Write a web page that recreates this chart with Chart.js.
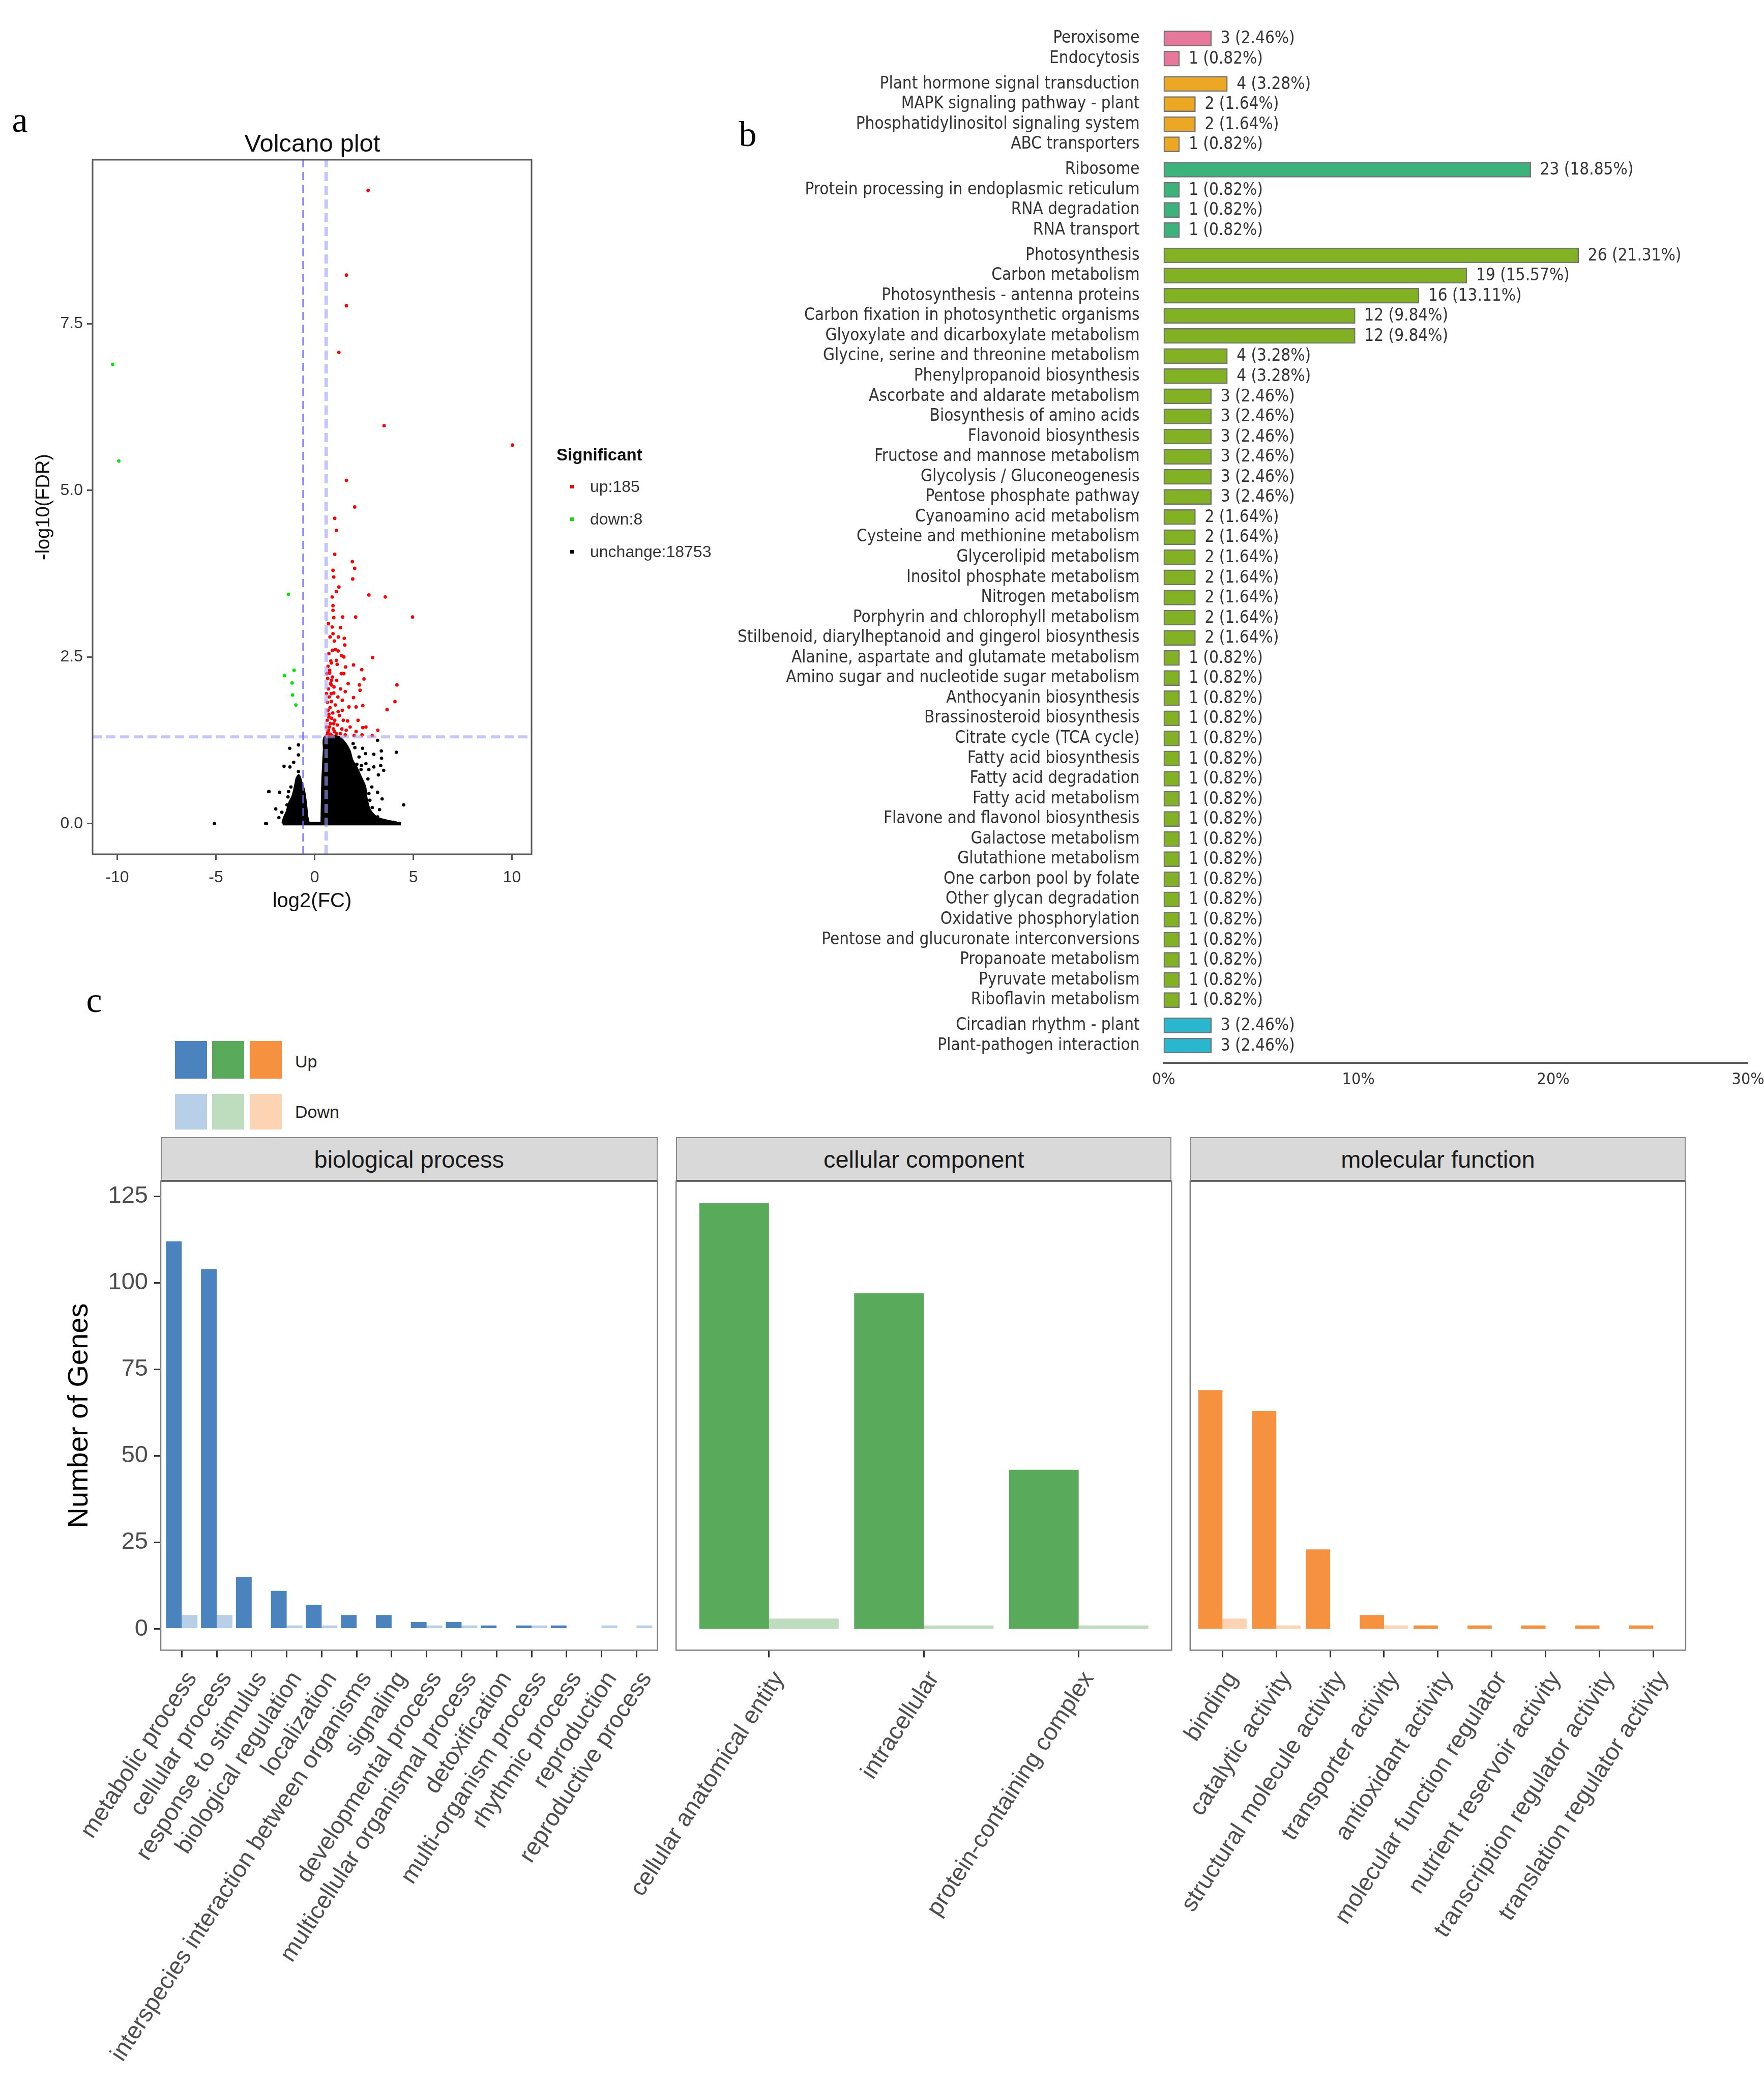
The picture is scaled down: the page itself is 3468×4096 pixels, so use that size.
<!DOCTYPE html>
<html><head><meta charset="utf-8">
<script src="https://cdn.jsdelivr.net/npm/chart.js@4.4.1/dist/chart.umd.min.js"></script>
<style>
html,body{margin:0;padding:0;background:#fff;}
body{width:3468px;height:4096px;overflow:hidden;position:relative;font-family:'Liberation Sans',Arial,sans-serif;}
canvas{position:absolute;}
.t{position:absolute;white-space:nowrap;line-height:1;}
.sw{position:absolute;}
.strip{position:absolute;box-sizing:border-box;background:#d9d9d9;border:2.5px solid #8a8a8a;border-bottom:4px solid #333;display:flex;align-items:center;justify-content:center;font-size:47px;color:#1a1a1a;}
</style></head><body>
<script>
// ================= DATA =================
// --- a: volcano ---
const volcanoXTicks = [-10, -5, 0, 5, 10];
const volcanoYTicks = [0, 2.5, 5, 7.5];
const fcThreshold = 0.585;     // |log2(FC)| cut-off
const fdrThreshold = 1.301;    // -log10(0.05)
const volcanoLegend = ['up:185', 'down:8', 'unchange:18753'];
const upPoints = [[2.71,9.50],[1.61,8.23],[1.61,7.77],[1.23,7.07],[3.52,5.97],[10.02,5.68],[1.61,5.15],[2.03,4.75],[1.02,4.58],[1.10,4.40],[1.02,4.04],[1.91,3.93],[2.03,3.83],[0.93,3.80],[0.97,3.70],[1.93,3.67],[1.23,3.55],[1.10,3.48],[2.75,3.43],[3.58,3.40],[0.89,3.40],[0.93,3.27],[0.93,3.20],[4.96,3.10],[2.08,3.10],[1.42,3.10],[0.97,3.09],[0.89,2.95],[1.31,2.94],[0.93,2.85],[1.50,2.78],[1.00,2.74],[1.53,2.68],[1.06,2.61],[1.19,2.59],[1.36,2.52],[1.48,2.50],[2.94,2.49],[0.85,2.41],[1.14,2.39],[1.97,2.38],[1.57,2.35],[2.39,2.31],[0.76,2.30],[1.48,2.25],[2.50,2.17],[4.17,2.08],[2.27,2.08],[0.85,2.08],[1.31,2.02],[0.97,1.96],[1.97,1.89],[1.40,1.85],[4.07,1.83],[0.85,1.83],[2.44,1.77],[1.74,1.75],[2.10,1.75],[3.67,1.71],[1.19,1.68],[0.72,1.64],[1.67,1.54],[0.97,1.50],[2.44,1.44],[1.38,1.42],[2.10,1.38],[0.68,1.38],[0.81,1.34],[1.10,1.35],[2.92,1.32],
 [0.62,1.32],[0.66,1.36],[0.70,1.40],[0.75,1.45],[0.80,1.50],[0.64,1.55],[0.72,1.60],[0.86,1.58],[0.68,1.70],[0.78,1.74],[0.92,1.66],[0.65,1.82],[0.74,1.90],[0.84,1.95],[0.70,2.02],[0.80,2.10],[0.66,2.18],[0.90,2.20],[0.76,2.26],[0.68,2.36],[0.82,2.44],[0.72,2.55],[0.95,1.42],[1.02,1.55],[1.15,1.48],[1.25,1.62],[1.05,1.78],[1.18,1.90],[0.98,2.05],[1.12,2.15],[1.30,1.35],[1.45,1.55],[1.60,1.40],[1.80,1.45],[1.55,1.98],[1.35,2.25],[0.88,1.32],[1.00,1.38],[0.60,1.45],[0.60,1.95],[0.62,2.25],[0.90,2.60],[0.78,2.80],[0.70,3.00],[1.20,2.80],[2.20,1.55],[2.00,1.32],[2.60,1.45],[3.20,1.40],[1.40,1.70],[1.70,2.10],[2.30,2.00],[1.10,2.45],[0.85,2.15],[2.40,1.33],[1.55,1.33]];
const downPoints = [[-10.23,6.89],[-9.92,5.44],[-1.33,3.44],[-1.04,2.30],[-1.53,2.22],[-1.14,2.11],[-1.12,1.93],[-0.95,1.78]];
const unchangePoints = [[-5.08,0],[-2.48,0],[-2.44,0],[-2.33,0.48],[-2.31,0.48],[-1.97,0.22],[-1.78,0.47],[-1.81,0.09],[-1.66,0.17],[-1.55,0.86],[-1.32,0.48],[-1.35,0.40],[-1.25,0.85],[-1.26,1.13],[-1.06,0.92],[-0.82,1.18],[-0.82,1.03],[-0.82,0.78],[-1.40,0.28],[-1.20,0.55],
 [3.19,1.25],[3.38,1.09],[4.14,1.07],[3.39,0.98],[3.00,1.04],[2.58,1.05],[2.43,1.13],[2.04,1.14],[3.35,0.87],[3.00,0.85],[2.75,0.81],[3.50,0.80],[3.23,0.73],[2.70,0.67],[3.19,0.47],[2.75,0.45],[3.42,0.37],[4.51,0.28],[2.70,0.23],[2.92,0.24],[3.29,0.21],[3.19,0.10],[2.35,0.81],[2.37,0.87],[2.14,0.89],[3.81,0],[4.28,0],[3.50,0],[4.00,0.02],[2.90,0.55],[2.60,0.90],[2.25,1.00],[1.95,1.20],[2.80,0.35]];
// outline of the dense, overplotted core of the 18753 unchanged genes
const unchangeCoreLeft = [[-1.62,0],[-1.55,0.08],[-1.40,0.18],[-1.29,0.30],[-1.10,0.42],[-0.97,0.58],[-0.90,0.68],[-0.80,0.72],[-0.68,0.62],[-0.55,0.50],[-0.45,0.30],[-0.38,0.10],[-0.30,0]];
const unchangeCoreRight = [[0.36,0],[0.40,0.60],[0.48,1.10],[0.53,1.30],[1.20,1.30],[1.50,1.22],[1.75,1.10],[1.90,0.95],[2.10,0.85],[2.30,0.72],[2.55,0.55],[2.62,0.38],[2.80,0.20],[3.20,0.08],[4.37,0]];
const unchangeBaseline = [[-1.62,0],[4.37,0]];

// --- b: KEGG ---
const keggTerms = ['Peroxisome','Endocytosis','Plant hormone signal transduction','MAPK signaling pathway - plant','Phosphatidylinositol signaling system','ABC transporters','Ribosome','Protein processing in endoplasmic reticulum','RNA degradation','RNA transport','Photosynthesis','Carbon metabolism','Photosynthesis - antenna proteins','Carbon fixation in photosynthetic organisms','Glyoxylate and dicarboxylate metabolism','Glycine, serine and threonine metabolism','Phenylpropanoid biosynthesis','Ascorbate and aldarate metabolism','Biosynthesis of amino acids','Flavonoid biosynthesis','Fructose and mannose metabolism','Glycolysis / Gluconeogenesis','Pentose phosphate pathway','Cyanoamino acid metabolism','Cysteine and methionine metabolism','Glycerolipid metabolism','Inositol phosphate metabolism','Nitrogen metabolism','Porphyrin and chlorophyll metabolism','Stilbenoid, diarylheptanoid and gingerol biosynthesis','Alanine, aspartate and glutamate metabolism','Amino sugar and nucleotide sugar metabolism','Anthocyanin biosynthesis','Brassinosteroid biosynthesis','Citrate cycle (TCA cycle)','Fatty acid biosynthesis','Fatty acid degradation','Fatty acid metabolism','Flavone and flavonol biosynthesis','Galactose metabolism','Glutathione metabolism','One carbon pool by folate','Other glycan degradation','Oxidative phosphorylation','Pentose and glucuronate interconversions','Propanoate metabolism','Pyruvate metabolism','Riboflavin metabolism','Circadian rhythm - plant','Plant-pathogen interaction'];
const keggCounts = [3,1,4,2,2,1,23,1,1,1,26,19,16,12,12,4,4,3,3,3,3,3,3,2,2,2,2,2,2,2,1,1,1,1,1,1,1,1,1,1,1,1,1,1,1,1,1,1,3,3];
const keggClass = ['CP','CP','EIP','EIP','EIP','EIP','GIP','GIP','GIP','GIP',
 'M','M','M','M','M','M','M','M','M','M','M','M','M','M','M','M','M','M','M','M','M','M','M','M','M','M','M','M','M','M','M','M','M','M','M','M','M','M','OS','OS'];
const keggTotal = 122;
const keggXTicks = [0, 10, 20, 30];

// --- c: GO ---
const goYTicks = [0, 25, 50, 75, 100, 125];
const bpTerms = ['metabolic process','cellular process','response to stimulus','biological regulation','localization','interspecies interaction between organisms','signaling','developmental process','multicellular organismal process','detoxification','multi-organism process','rhythmic process','reproduction','reproductive process'];
const bpUp   = [112,104,15,11,7,4,4,2,2,1,1,1,0,0];
const bpDown = [4,4,0,1,1,0,0,1,1,0,1,0,1,1];
const ccTerms = ['cellular anatomical entity','intracellular','protein-containing complex'];
const ccUp   = [123,97,46];
const ccDown = [3,1,1];
const mfTerms = ['binding','catalytic activity','structural molecule activity','transporter activity','antioxidant activity','molecular function regulator','nutrient reservoir activity','transcription regulator activity','translation regulator activity'];
const mfUp   = [69,63,23,4,1,1,1,1,1];
const mfDown = [3,1,0,1,0,0,0,0,0];
const goFacets = ['biological process','cellular component','molecular function'];
const goLegend = ['Up','Down'];

// ================= HELPERS =================
Chart.defaults.font.family = "'Liberation Sans', Arial, sans-serif";
Chart.defaults.animation = false;
const COND = "'DejaVu Sans Condensed','Liberation Sans Narrow','DejaVu Sans',sans-serif";
function txt(s, x, y, o = {}) {
  const d = document.createElement('div'); d.className = 't'; d.textContent = s;
  d.style.left = x + 'px'; d.style.top = y + 'px';
  d.style.fontSize = (o.fs || 32) + 'px';
  if (o.fw) d.style.fontWeight = o.fw;
  if (o.ff) d.style.fontFamily = o.ff;
  d.style.color = o.c || '#000';
  d.style.transform = `translate(${o.ax ?? -50}%, ${o.ay ?? -50}%)`;
  document.body.appendChild(d); return d;
}
function rect(x, y, w, h, col) {
  const d = document.createElement('div'); d.className = 'sw';
  Object.assign(d.style, {left: x + 'px', top: y + 'px', width: w + 'px', height: h + 'px', background: col});
  document.body.appendChild(d); return d;
}
function mkCanvas(x, y, w, h) {
  const c = document.createElement('canvas'); c.width = w; c.height = h;
  Object.assign(c.style, {left: x + 'px', top: y + 'px', width: w + 'px', height: h + 'px'});
  document.body.appendChild(c); return c;
}
const frame = {id: 'frame', afterDatasetsDraw(chart, args, o) {
  const {ctx, chartArea: a} = chart; ctx.save(); ctx.strokeStyle = o.color; ctx.lineWidth = o.width;
  ctx.strokeRect(a.left, a.top, a.right - a.left, a.bottom - a.top); ctx.restore(); }};
const toXY = arr => arr.map(([x, y]) => ({x, y}));
const fixW = w => s => { s.width = w; s.paddingTop = 0; s.paddingBottom = 0; };
const fixH = h => s => { s.height = h; s.paddingLeft = 0; s.paddingRight = 0; };

// ================= a: VOLCANO =================
txt('a', 39, 236, {fs: 70, ff: "'Liberation Serif', serif"});
txt('Volcano plot', 614, 281, {fs: 49, c: '#111'});
const vX = [-11.25, 10.99], vY = [-0.46, 9.96];
new Chart(mkCanvas(0, 200, 1200, 1700), {
  type: 'scatter',
  data: {datasets: [
    {type: 'line', data: [{x: -fcThreshold, y: vY[0]}, {x: -fcThreshold, y: vY[1]}], borderColor: 'rgba(105,105,255,0.85)', borderWidth: 3, borderDash: [16, 9], pointRadius: 0, fill: false},
    {type: 'line', data: [{x: fcThreshold, y: vY[0]}, {x: fcThreshold, y: vY[1]}], borderColor: 'rgba(160,160,255,0.6)', borderWidth: 7, borderDash: [18, 9], pointRadius: 0, fill: false},
    {type: 'line', data: [{x: vX[0], y: fdrThreshold}, {x: vX[1], y: fdrThreshold}], borderColor: 'rgba(160,160,255,0.6)', borderWidth: 6, borderDash: [18, 9], pointRadius: 0, fill: false},
    {data: toXY(upPoints), backgroundColor: '#ff0000', pointRadius: 3.4, borderWidth: 0},
    {data: toXY(downPoints), backgroundColor: '#00e600', pointRadius: 3.4, borderWidth: 0},
    {data: toXY(unchangePoints), backgroundColor: '#000', pointRadius: 3.3, borderWidth: 0},
    {type: 'line', data: toXY(unchangeCoreLeft), fill: 'origin', backgroundColor: '#000', borderColor: '#000', borderWidth: 5, pointRadius: 0, tension: 0.3},
    {type: 'line', data: toXY(unchangeCoreRight), fill: 'origin', backgroundColor: '#000', borderColor: '#000', borderWidth: 5, pointRadius: 0, tension: 0.3},
    {type: 'line', data: toXY(unchangeBaseline), borderColor: '#000', borderWidth: 7, pointRadius: 0, fill: false}
  ]},
  options: {
    responsive: false, events: [],
    layout: {padding: {top: 114, right: 155, left: 0, bottom: 0}},
    plugins: {legend: {display: false}, tooltip: {enabled: false}, frame: {color: '#5a5a5a', width: 3}},
    scales: {
      x: {type: 'linear', min: vX[0], max: vX[1],
        afterBuildTicks: s => { s.ticks = volcanoXTicks.map(v => ({value: v})); },
        afterFit: fixH(221),
        grid: {drawOnChartArea: false, drawTicks: true, tickLength: 11, color: '#555', lineWidth: 3},
        border: {display: false},
        ticks: {font: {size: 32}, color: '#333', padding: 16, callback: v => String(v)},
        title: {display: true, text: 'log2(FC)', font: {size: 40}, color: '#111', padding: {top: 0, bottom: 104}}},
      y: {type: 'linear', min: vY[0], max: vY[1],
        afterBuildTicks: s => { s.ticks = volcanoYTicks.map(v => ({value: v})); },
        afterFit: fixW(182),
        grid: {drawOnChartArea: false, drawTicks: true, tickLength: 11, color: '#555', lineWidth: 3},
        border: {display: false},
        ticks: {font: {size: 32}, color: '#333', padding: 8, callback: v => v.toFixed(1)},
        title: {display: true, text: '-log10(FDR)', font: {size: 38}, color: '#111', padding: {top: 64, bottom: 0}}}
    }
  },
  plugins: [frame]
});
// legend a
txt('Significant', 1094, 893, {fs: 33, fw: 'bold', ax: 0, c: '#111'});
const vCols = ['#ff0000', '#00e600', '#000'];
volcanoLegend.forEach((s, i) => {
  const y = [956, 1020, 1084][i];
  rect(1121, y - 3.5, 7, 7, vCols[i]);
  txt(s, 1160, y, {fs: 32, ax: 0, c: '#333'});
});

// ================= b: KEGG =================
txt('b', 1470, 264, {fs: 70, ff: "'Liberation Serif', serif"});
const mctx = document.createElement('canvas').getContext('2d');
mctx.font = `100px ${COND}`;
const keggFs = Math.min(34, 791 * 100 / mctx.measureText(keggTerms[29]).width);
const keggPos = []; { let g = -1, prev = null; keggClass.forEach((c, i) => { if (c !== prev) { g++; prev = c; } keggPos.push(i + g * 0.26); }); }
const classColor = {CP: '#E8789B', EIP: '#ECA823', GIP: '#3BB37B', M: '#83B124', OS: '#28B7CF'};
const barValues = {id: 'barValues', afterDatasetsDraw(chart) {
  const ctx = chart.ctx, meta = chart.getDatasetMeta(0); ctx.save();
  ctx.font = `${keggFs}px ${COND}`; ctx.fillStyle = '#333'; ctx.textBaseline = 'middle'; ctx.textAlign = 'left';
  meta.data.forEach((bar, i) => { const n = keggCounts[i];
    ctx.fillText(`${n} (${(n / keggTotal * 100).toFixed(2)}%)`, bar.x + 18, bar.y + 1); });
  ctx.restore(); }};
new Chart(mkCanvas(1400, 0, 2200, 2180), {
  type: 'bar',
  data: {datasets: [{
    data: keggCounts.map((n, i) => ({x: n / keggTotal * 100, y: keggPos[i]})),
    backgroundColor: keggClass.map(c => classColor[c]),
    borderColor: 'rgba(70,70,70,0.75)', borderWidth: 2.5, borderSkipped: false, barThickness: 30}]},
  options: {
    indexAxis: 'y', responsive: false, events: [],
    layout: {padding: {top: 41.6, right: 163.4, left: 0, bottom: 0}},
    plugins: {legend: {display: false}, tooltip: {enabled: false}},
    scales: {
      y: {type: 'linear', reverse: true, offset: false, min: -0.86, max: keggPos[keggPos.length - 1] + 0.86,
        afterBuildTicks: s => { s.ticks = keggPos.map(v => ({value: v})); },
        afterFit: fixW(887.6),
        grid: {display: false, offset: false}, border: {display: false},
        ticks: {autoSkip: false, padding: 39, font: {size: keggFs, family: COND}, color: '#333', callback: (v, i) => keggTerms[i]}},
      x: {type: 'linear', min: 0, max: 30,
        afterBuildTicks: s => { s.ticks = keggXTicks.map(v => ({value: v})); },
        afterFit: fixH(91),
        grid: {display: false}, border: {display: true, color: '#5c5c5c', width: 4},
        ticks: {font: {size: keggFs - 1, family: COND}, color: '#333', padding: 6, callback: v => v + '%'}}
    }
  },
  plugins: [barValues]
});

// ================= c: GO =================
txt('c', 185, 1966, {fs: 70, ff: "'Liberation Serif', serif"});
const upCols = ['#4A83BE', '#5AAA5B', '#F6913F'];
const downCols = ['#B7CFE7', '#BEDCBE', '#FCD4B4'];
[344, 417, 490.6].forEach((x, i) => { rect(x, 2046, 63, 74, upCols[i]); rect(x, 2150, 63, 70, downCols[i]); });
txt(goLegend[0], 580, 2086, {fs: 34, ax: 0, c: '#222'});
txt(goLegend[1], 580, 2185, {fs: 34, ax: 0, c: '#222'});

const panels = [
  {terms: bpTerms, up: bpUp, down: bpDown, left: 316, right: 1292.6, cvL: 0, cvW: 1380, showY: true},
  {terms: ccTerms, up: ccUp, down: ccDown, left: 1329.2, right: 2303.3, cvL: 900, cvW: 1490, showY: false},
  {terms: mfTerms, up: mfUp, down: mfDown, left: 2339.8, right: 3313.9, cvL: 1900, cvW: 1500, showY: false}
];
const panelTop = 2321.5, panelBottom = 3243.4, cvTop = 2200, cvH = 1896;
panels.forEach((p, k) => {
  const s = document.createElement('div'); s.className = 'strip'; s.textContent = goFacets[k];
  Object.assign(s.style, {left: p.left + 'px', top: '2235.4px', width: (p.right - p.left) + 'px', height: (panelTop - 2235.4 + 2) + 'px'});
  document.body.appendChild(s);
  new Chart(mkCanvas(p.cvL, cvTop, p.cvW, cvH), {
    type: 'bar',
    data: {datasets: [
      {data: p.up.map((v, i) => ({x: i, y: v})), backgroundColor: upCols[k], categoryPercentage: 0.9, barPercentage: 1},
      {data: p.down.map((v, i) => ({x: i, y: v})), backgroundColor: downCols[k], categoryPercentage: 0.9, barPercentage: 1}
    ]},
    options: {
      responsive: false, events: [],
      layout: {padding: {top: panelTop - cvTop, left: p.showY ? 0 : p.left - p.cvL, right: p.cvW - (p.right - p.cvL), bottom: 0}},
      plugins: {legend: {display: false}, tooltip: {enabled: false}, frame: {color: '#7f7f7f', width: 2.5}},
      scales: {
        x: {type: 'linear', offset: false, min: -0.6, max: p.terms.length - 0.4,
          afterBuildTicks: s => { s.ticks = p.terms.map((_, i) => ({value: i})); },
          afterFit: fixH(cvH - (panelBottom - cvTop)),
          grid: {drawOnChartArea: false, drawTicks: true, tickLength: 14, color: '#333', lineWidth: 3, offset: false},
          border: {display: false},
          ticks: {autoSkip: false, maxRotation: 57, minRotation: 57, font: {size: 47}, color: '#4d4d4d', padding: 18, labelOffset: 20, callback: (v, i) => p.terms[i]}},
        y: {display: p.showY, min: -6.15, max: 129.4, beginAtZero: false,
          afterBuildTicks: s => { s.ticks = goYTicks.map(v => ({value: v})); },
          afterFit: fixW(p.showY ? 316 : 0),
          grid: {drawOnChartArea: false, drawTicks: true, tickLength: 13, color: '#333', lineWidth: 3},
          border: {display: false},
          ticks: {font: {size: 47}, color: '#4d4d4d', padding: 12},
          title: {display: true, text: 'Number of Genes', font: {size: 56}, color: '#000', padding: {top: 123, bottom: 0}}}
      }
    },
    plugins: [frame]
  });
});
</script>
</body></html>
